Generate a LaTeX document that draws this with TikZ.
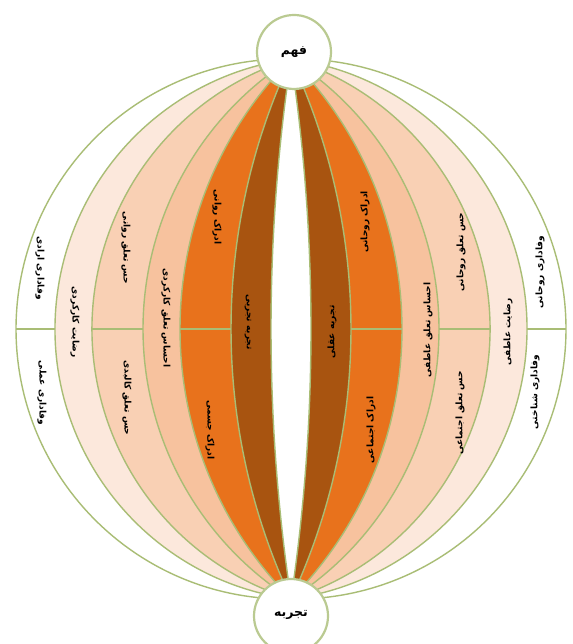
\documentclass[tikz,border=0pt]{standalone}
\usepackage{fontspec}
\newfontfamily\fa[Script=Arabic]{DejaVu Sans}
\TeXXeTstate=1
\definecolor{lineg}{HTML}{A9BD75}
\definecolor{vlight}{HTML}{FCE8DC}
\definecolor{lightb}{HTML}{F9D0B4}
\definecolor{peach}{HTML}{F7C29E}
\definecolor{orng}{HTML}{E8721C}
\definecolor{brwn}{HTML}{A85410}
\tikzset{
  lbl/.style={font=\fa\bfseries\fontsize{9}{11}\selectfont, inner sep=1pt},
  lside/.style={lbl, rotate=-90},
  rside/.style={lbl, rotate=90},
  pole/.style={circle, fill=white, draw=lineg!80, line width=2.2, minimum size=74,
    font=\fa\bfseries\fontsize{12.5}{14}\selectfont},
  meri/.style={draw=lineg, line width=1.4},
  divider/.style={draw=lineg, line width=1.6}
}
\begin{document}
\begin{tikzpicture}[x=1pt,y=1pt]
\useasboundingbox (0,0) rectangle (572,644);
\clip (0,0) rectangle (572,644);
\fill[white] (0,0) rectangle (572,644);
\def\cx{291}
\def\cy{315}
\def\hh{270}
% bands as nested lenses, outer to inner
\foreach \d/\c in {275/white, 236/vlight, 199/lightb, 148/peach, 111/orng, 60/brwn, 20/white}{
  \pgfmathsetmacro{\R}{(\hh/\d*\hh + \d)/2}
  \pgfmathsetmacro{\ph}{atan2(\hh,\R-\d)}
  \path[fill=\c, meri] (\cx,\cy+\hh)
     arc[start angle=\ph, end angle=-\ph, radius=\R]
     arc[start angle=180+\ph, end angle=180-\ph, radius=\R] -- cycle;
}
% horizontal dividers
\foreach \a/\b in {275/236, 199/148, 111/60}{
  \draw[divider] (\cx-\a,\cy) -- (\cx-\b,\cy);
  \draw[divider] (\cx+\a,\cy) -- (\cx+\b,\cy);
}
% pole circles
\node[pole] (fahm) at (294,592) {\beginR فهم\endR};
\node[pole] (tajrobe) at (291,28) {\raisebox{6pt}{\beginR تجربه\endR}};
% left labels
\node[lside] (l1) at (40,376) {\beginR وفاداری ارادی\endR};
\node[lside] (l2) at (42,251) {\beginR وفاداری عملی\endR};
\node[lside] (l3) at (75,322) {\beginR رضایت کارکردی\endR};
\node[lside] (l4) at (126,396) {\beginR حس تعلق روانی\endR};
\node[lside] (l5) at (127,246) {\beginR حس تعلق کالبدی\endR};
\node[lside] (l6) at (166,326) {\beginR احساس تعلق کارکردی\endR};
\node[lside] (l7) at (217,427) {\beginR ادراک روانی\endR};
\node[lside] (l8) at (210,214) {\beginR ادراک جسمی\endR};
\node[lside] (l9) at (248,322) {\beginR تجربه تجربی\endR};
% right labels
\node[rside] (r1) at (332,312) {\beginR تجربه عقلی\endR};
\node[rside] (r2) at (365,422) {\beginR ادراک روحانی\endR};
\node[rside] (r3) at (371,214) {\beginR ادراک اجتماعی\endR};
\node[rside] (r4) at (428,314) {\beginR احساس تعلق عاطفی\endR};
\node[rside] (r5) at (461,392) {\beginR حس تعلق روحانی\endR};
\node[rside] (r6) at (460,231) {\beginR حس تعلق اجتماعی\endR};
\node[rside] (r7) at (508,312) {\beginR رضایت عاطفی\endR};
\node[rside] (r8) at (540,372) {\beginR وفاداری روحانی\endR};
\node[rside] (r9) at (535,252) {\beginR وفاداری شناختی\endR};
\end{tikzpicture}
\end{document}
